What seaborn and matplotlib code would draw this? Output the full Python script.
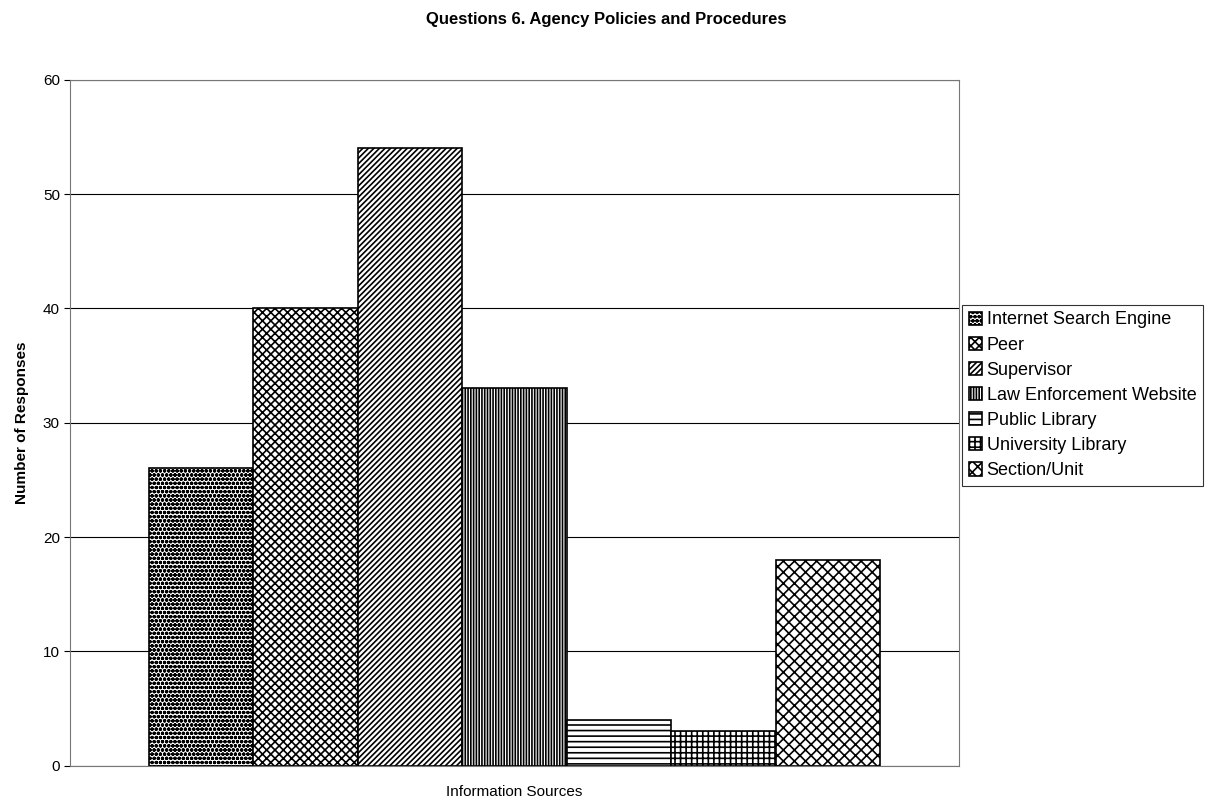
import pandas as pd
import seaborn as sns
import matplotlib.pyplot as plt

# values
sources = ['Internet Search Engine', 'Peer', 'Supervisor', 'Law Enforcement Website',
           'Public Library', 'University Library', 'Section/Unit']
responses = [26, 40, 54, 33, 4, 3, 18]
hatches = ['oooo', 'xxxx', '//////', '||||||', '---', '+++', 'xxx']

df = pd.DataFrame({'group': ['Information Sources'] * len(sources),
                   'source': sources, 'responses': responses})

sns.set_style('white')
plt.rcParams['font.family'] = ['Liberation Sans', 'DejaVu Sans']
plt.rcParams['hatch.linewidth'] = 1.2
for k in ['text.color', 'axes.labelcolor', 'xtick.color', 'ytick.color']:
    plt.rcParams[k] = 'black'

fig = plt.figure(figsize=(12.12, 8.06), dpi=100)
ax = fig.add_axes([0.058, 0.05, 0.733, 0.851])

sns.barplot(data=df, x='group', y='responses', hue='source', hue_order=sources,
            palette=['white'] * len(sources), width=0.823, gap=0, ax=ax,
            edgecolor='black', linewidth=1.2, legend=True)

for patch, h in zip(ax.patches, hatches):
    patch.set_hatch(h)

ax.set_ylim(0, 60)
ax.set_yticks(range(0, 61, 10))
ax.yaxis.grid(True, color='black', linewidth=0.8)
ax.set_axisbelow(True)
for s in ax.spines.values():
    s.set_color('#777777')
ax.tick_params(axis='y', left=True, length=4, labelsize=11)
ax.set_xticks([])
ax.set_xlabel('Information Sources', fontsize=11, labelpad=14)
ax.set_ylabel('Number of Responses', fontsize=11, fontweight='bold', labelpad=10)

leg = ax.legend(loc='center left', bbox_to_anchor=(1.004, 0.54), frameon=True,
                fancybox=False, edgecolor='black', fontsize=13, handlelength=0.75,
                handleheight=0.75, handletextpad=0.25, borderpad=0.35, labelspacing=0.45,
                borderaxespad=0)
leg.get_frame().set_linewidth(0.8)
for handle, h in zip(leg.legend_handles, hatches):
    handle.set_hatch(h)
    handle.set_edgecolor('black')

fig.suptitle('Questions 6. Agency Policies and Procedures', fontsize=12,
             fontweight='bold', y=0.985)

plt.savefig('out.png')
